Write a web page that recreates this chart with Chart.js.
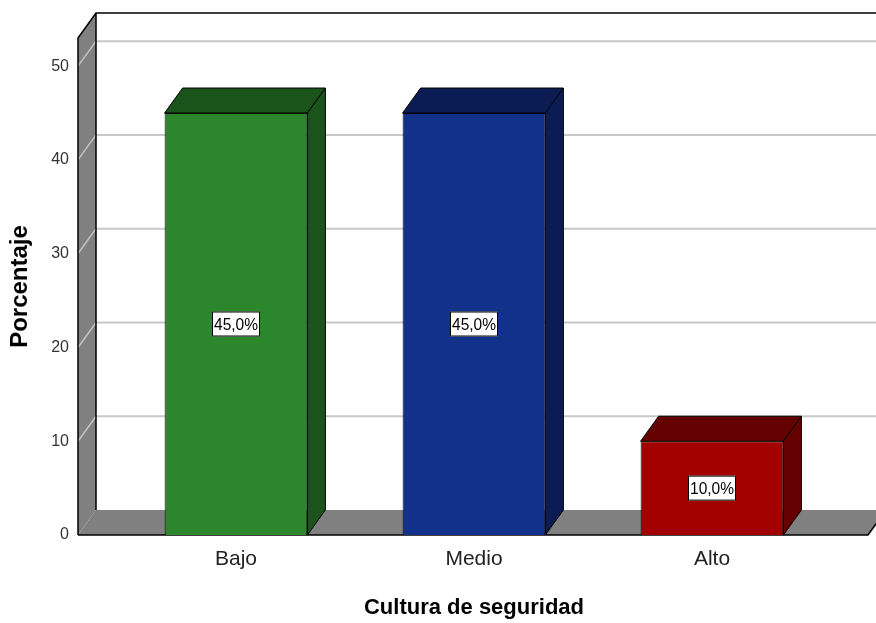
<!DOCTYPE html>
<html>
<head>
<meta charset="utf-8">
<script src="https://cdn.jsdelivr.net/npm/chart.js@4/dist/chart.umd.min.js"></script>
<style>
  html, body { margin: 0; padding: 0; background: #fff; }
  #wrap { width: 876px; height: 623px; position: relative; }
</style>
</head>
<body>
<div id="wrap"><canvas id="chart"></canvas></div>
<script>
const categories = ['Bajo', 'Medio', 'Alto'];
const percentages = [45.0, 45.0, 10.0];
const yTicks = [0, 10, 20, 30, 40, 50];
const yMax = 53;

const barColors = ['#2c872c', '#12318a', '#a30000'];
const shadeColors = ['#1b541b', '#0b1c54', '#640000'];

// depth offset of the 3D look
const DX = 18;
const DY = -25;

function pctLabel(v) {
    return v.toFixed(1).replace('.', ',') + '%';
}

const box3d = {
    id: 'box3d',
    beforeDatasetsDraw(chart) {
        const ctx = chart.ctx;
        const area = chart.chartArea;
        const y = chart.scales.y;
        const x0 = area.left - 39;
        const x1 = area.right + 37;
        const y0 = y.getPixelForValue(0);
        const yTop = y.getPixelForValue(yMax);
        const W = chart.width;

        ctx.save();
        // back wall
        ctx.fillStyle = '#ffffff';
        ctx.fillRect(x0 + DX, yTop + DY, W - x0 - DX, y0 - yTop);

        // grid lines on back wall
        yTicks.forEach(v => {
            if (v === 0) return;
            const py = y.getPixelForValue(v);
            ctx.strokeStyle = '#c8c8c8';
            ctx.lineWidth = 2;
            ctx.beginPath();
            ctx.moveTo(x0 + DX, py + DY);
            ctx.lineTo(W, py + DY);
            ctx.stroke();
        });

        // left wall
        ctx.fillStyle = '#808080';
        ctx.beginPath();
        ctx.moveTo(x0, yTop);
        ctx.lineTo(x0 + DX, yTop + DY);
        ctx.lineTo(x0 + DX, y0 + DY);
        ctx.lineTo(x0, y0);
        ctx.closePath();
        ctx.fill();

        yTicks.forEach(v => {
            if (v === 0) return;
            const py = y.getPixelForValue(v);
            ctx.strokeStyle = '#c4c4c4';
            ctx.lineWidth = 1.5;
            ctx.beginPath();
            ctx.moveTo(x0, py);
            ctx.lineTo(x0 + DX, py + DY);
            ctx.stroke();
        });

        // floor
        ctx.fillStyle = '#808080';
        ctx.beginPath();
        ctx.moveTo(x0, y0);
        ctx.lineTo(x0 + DX, y0 + DY);
        ctx.lineTo(x1 + DX, y0 + DY);
        ctx.lineTo(x1, y0);
        ctx.closePath();
        ctx.fill();

        // outlines
        ctx.strokeStyle = '#000';
        ctx.lineWidth = 1.5;
        ctx.beginPath();
        ctx.moveTo(x0, y0);
        ctx.lineTo(x0, yTop);
        ctx.lineTo(x0 + DX, yTop + DY);
        ctx.lineTo(W, yTop + DY);
        ctx.moveTo(x0 + DX, yTop + DY);
        ctx.lineTo(x0 + DX, y0 + DY);
        ctx.moveTo(x0, y0);
        ctx.lineTo(x1, y0);
        ctx.lineTo(x1 + DX, y0 + DY);
        ctx.stroke();
        ctx.restore();
    },
    afterDatasetsDraw(chart) {
        const ctx = chart.ctx;
        const y = chart.scales.y;
        const meta = chart.getDatasetMeta(0);
        ctx.save();
        meta.data.forEach((bar, i) => {
            const p = bar.getProps(['x', 'y', 'base', 'width'], true);
            const l = p.x - p.width / 2;
            const r = p.x + p.width / 2;
            ctx.fillStyle = shadeColors[i];
            ctx.strokeStyle = '#000';
            ctx.lineWidth = 1;
            // top face
            ctx.beginPath();
            ctx.moveTo(l, p.y);
            ctx.lineTo(l + DX, p.y + DY);
            ctx.lineTo(r + DX, p.y + DY);
            ctx.lineTo(r, p.y);
            ctx.closePath();
            ctx.fill();
            ctx.stroke();
            // side face
            ctx.beginPath();
            ctx.moveTo(r, p.y);
            ctx.lineTo(r + DX, p.y + DY);
            ctx.lineTo(r + DX, p.base + DY);
            ctx.lineTo(r, p.base);
            ctx.closePath();
            ctx.fill();
            ctx.stroke();

            // value label in a white box
            const v = percentages[i];
            const cy = y.getPixelForValue(v / 2);
            const bw = 48, bh = 25;
            ctx.fillStyle = '#fff';
            ctx.fillRect(p.x - bw / 2, cy - bh / 2, bw, bh);
            ctx.strokeRect(p.x - bw / 2 + 0.5, cy - bh / 2 + 0.5, bw - 1, bh - 1);
            ctx.fillStyle = '#000';
            ctx.font = "17px 'Liberation Sans Narrow', 'Liberation Sans', Arial, sans-serif";
            ctx.textAlign = 'center';
            ctx.textBaseline = 'middle';
            ctx.fillText(pctLabel(v), p.x, cy + 1, bw - 4);
        });
        ctx.restore();
    }
};

const ctx = document.getElementById('chart').getContext('2d');
new Chart(ctx, {
    type: 'bar',
    data: {
        labels: categories,
        datasets: [{
            data: percentages,
            backgroundColor: barColors,
            borderColor: '#000',
            borderWidth: 1,
            barPercentage: 0.6,
            categoryPercentage: 1.0
        }]
    },
    options: {
        responsive: true,
        maintainAspectRatio: false,
        animation: false,
        layout: { padding: { top: 38, right: 45, left: 0, bottom: 0 } },
        plugins: {
            legend: { display: false },
            tooltip: { enabled: false }
        },
        scales: {
            x: {
                grid: { display: false, drawTicks: false },
                border: { display: false },
                ticks: {
                    color: '#222',
                    padding: 12,
                    font: { family: "'Liberation Sans', Arial, sans-serif", size: 21 }
                },
                title: {
                    display: true,
                    text: 'Cultura de seguridad',
                    color: '#000',
                    padding: { top: 0, bottom: 2 },
                    font: { family: "'Liberation Sans', Arial, sans-serif", size: 22, weight: 'bold' }
                },
                afterFit(scale) { scale.height = 88; }
            },
            y: {
                min: 0,
                max: yMax,
                grid: { display: false, drawTicks: false },
                border: { display: false },
                afterBuildTicks(scale) {
                    scale.ticks = yTicks.map(v => ({ value: v }));
                },
                ticks: {
                    color: '#333',
                    padding: 48,
                    font: { family: "'Liberation Sans', Arial, sans-serif", size: 16 }
                },
                title: {
                    display: true,
                    text: 'Porcentaje',
                    color: '#000',
                    padding: { top: 6, bottom: 0 },
                    font: { family: "'Liberation Sans', Arial, sans-serif", size: 24, weight: 'bold' }
                },
                afterFit(scale) {
                    // the wide label gap should not push the plot area down
                    scale.width = 117;
                    scale.paddingTop = 10;
                    scale.paddingBottom = 10;
                }
            }
        }
    },
    plugins: [box3d]
});
</script>
</body>
</html>
